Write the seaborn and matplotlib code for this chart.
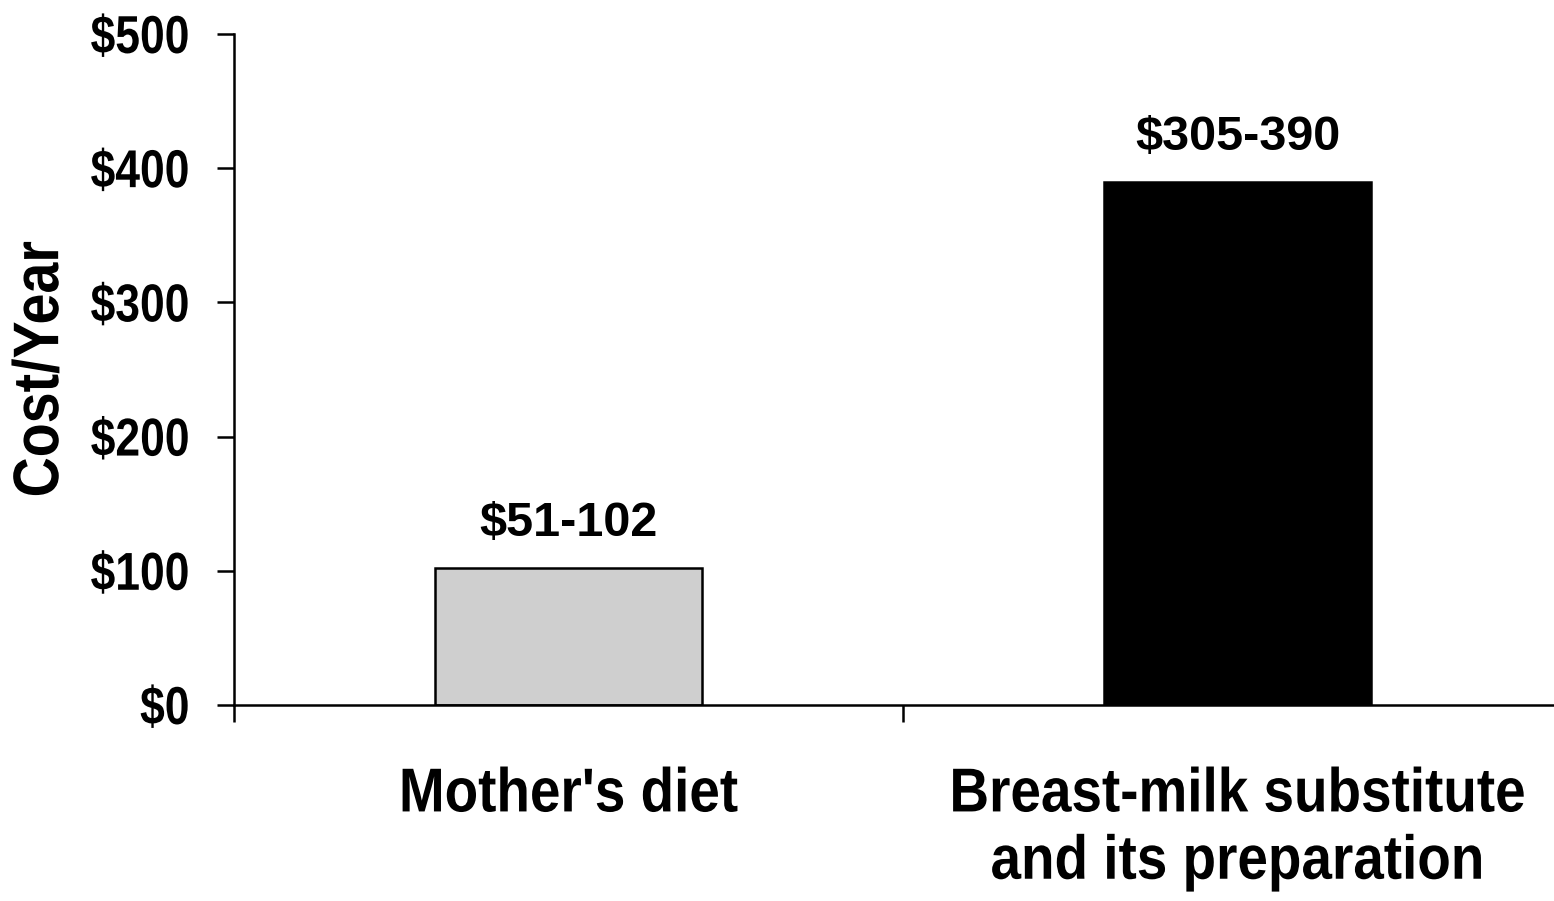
import matplotlib
matplotlib.use("Agg")
import matplotlib.pyplot as plt
from matplotlib.patheffects import AbstractPathEffect
from matplotlib.transforms import Affine2D
import seaborn as sns
import pandas as pd

categories = ["Mother's diet", "Breast-milk substitute\nand its preparation"]
upper_cost = [102, 390]
range_labels = ["$51-102", "$305-390"]
bar_colors = ["#cfcfcf", "#000000"]
y_ticks = [0, 100, 200, 300, 400, 500]
y_tick_labels = ["$0", "$100", "$200", "$300", "$400", "$500"]

sns.set_theme(style="white")
plt.rcParams["font.family"] = ["Liberation Sans", "DejaVu Sans"]
for key in ["text.color", "axes.labelcolor", "xtick.color", "ytick.color"]:
    plt.rcParams[key] = "black"


class Stretch(AbstractPathEffect):
    """Draw text scaled about the centre of each line (condensed look)."""

    def __init__(self, sx=1.0, sy=1.0):
        super().__init__()
        self.sx, self.sy = sx, sy

    def draw_path(self, renderer, gc, tpath, affine, rgbFace=None):
        ext = tpath.get_extents(affine)
        cx, cy = (ext.x0 + ext.x1) / 2, (ext.y0 + ext.y1) / 2
        tr = affine + Affine2D().translate(-cx, -cy).scale(self.sx, self.sy).translate(cx, cy)
        renderer.draw_path(gc, tpath, tr, rgbFace)


df = pd.DataFrame({"category": categories, "cost": upper_cost})

fig = plt.figure(figsize=(15.54, 9.01), dpi=100)
W, H = 1554, 901
ax = fig.add_axes([234 / W, 1 - 705 / H, (1572 - 234) / W, (705 - 34) / H])

sns.barplot(data=df, x="category", y="cost", hue="category", palette=bar_colors,
            legend=False, width=0.4, edgecolor="black", linewidth=1.8, ax=ax,
            saturation=1)

ax.set_xlim(-0.5, 1.5)
ax.set_ylim(0, 500)

for spine in ["top", "right"]:
    ax.spines[spine].set_visible(False)
for spine in ["left", "bottom"]:
    ax.spines[spine].set_color("black")
    ax.spines[spine].set_linewidth(1.8)

ax.set_yticks(y_ticks)
ax.set_yticklabels(y_tick_labels, fontsize=32, fontweight="bold")
ax.tick_params(axis="y", direction="out", length=12, width=1.8, color="black",
               pad=20, left=True)
for t in ax.get_yticklabels():
    t.set_path_effects([Stretch(sy=1.2)])

ax.set_xticks([0, 1])
ax.set_xticklabels(categories, fontsize=39.5, fontweight="bold", linespacing=1.4)
ax.tick_params(axis="x", which="major", length=0, pad=46)
for t in ax.get_xticklabels():
    t.set_path_effects([Stretch(sy=1.13)])
ax.set_xticks([-0.5, 0.5, 1.5], minor=True)
ax.tick_params(axis="x", which="minor", direction="out", length=12, width=1.8,
               color="black", bottom=True)

ax.set_xlabel("")
ax.set_ylabel("Cost/Year", fontsize=40, fontweight="bold",
              path_effects=[Stretch(sx=1.16)])
ax.yaxis.set_label_coords(-0.1248, 0.5)

for i, (val, lab) in enumerate(zip(upper_cost, range_labels)):
    ax.annotate(lab, xy=(i, val), xytext=(0, 32), textcoords="offset points",
                ha="center", va="center", fontsize=35, fontweight="bold")

fig.savefig("out.png", dpi=100)
